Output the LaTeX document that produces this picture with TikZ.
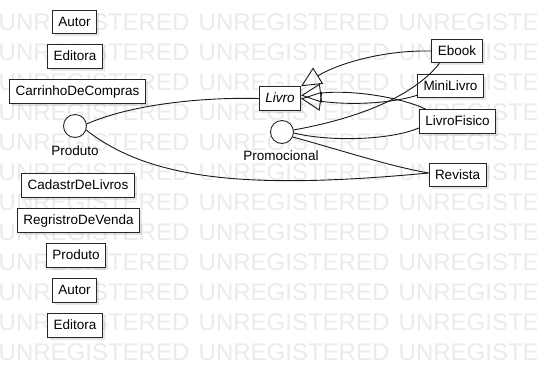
\documentclass[tikz,border=0pt]{standalone}
\usepackage{fontspec}
\setmainfont{Liberation Sans}
\usetikzlibrary{arrows.meta,shadows}

\tikzset{
  classbox/.style={draw=black!85, fill=white, line width=0.9pt,
    inner xsep=6pt, inner ysep=6.5pt, text height=9.7pt, text depth=1pt,
    font=\fontsize{13.5}{16}\selectfont,
    drop shadow={shadow xshift=2.5pt, shadow yshift=-2.5pt, fill=black, opacity=0.10}},
  iface/.style={circle, draw=black!85, fill=white, line width=0.9pt,
    minimum size=23pt, inner sep=0pt},
  ifacelabel/.style={inner sep=0pt, font=\fontsize{13.5}{16}\selectfont},
  link/.style={draw=black!90, line width=0.9pt},
  generalize/.style={link, -{Triangle[open, length=20pt, width=19pt, line width=0.9pt]}},
  watermark/.style={inner sep=0pt, anchor=base west, text=black!8,
    font=\fontsize{24}{24}\selectfont}
}

\begin{document}
\begin{tikzpicture}[x=1pt, y=-1pt]
  \useasboundingbox (0,0) rectangle (537,378);
  \fill[white] (0,0) rectangle (537,378);

  % background stamp, rows 30pt apart
  \foreach \r in {1,...,12} {
    \foreach \c in {0,1,2} {
      \node[watermark] (wm-\r-\c) at (200*\c-1.5, 30*\r) {UNREGISTERED};
    }
  }

  % left column of classes
  \node[classbox] (autorA)    at (74.5,22)   {Autor};
  \node[classbox] (editoraA)  at (75,56.5)   {Editora};
  \node[classbox] (carrinho)  at (77.5,91.5) {CarrinhoDeCompras};
  \node[classbox] (cadastro)  at (78,185.5)  {CadastrDeLivros};
  \node[classbox] (registro)  at (78.5,220.5){RegristroDeVenda};
  \node[classbox] (produtoB)  at (76,255.5)  {Produto};
  \node[classbox] (autorB)    at (74.5,290.5){Autor};
  \node[classbox] (editoraB)  at (75,325.5)  {Editora};

  % interfaces (lollipops)
  \node[iface] (produto) at (75,126) {};
  \node[ifacelabel] (produtoLbl) at (75,151) {Produto};
  \node[iface] (promo) at (282,132) {};
  \node[ifacelabel] (promoLbl) at (281,156) {Promocional};

  % abstract class and its subclasses
  \node[classbox] (livro)   at (280,98.5)  {\itshape Livro};
  \node[classbox] (ebook)   at (457,51)    {Ebook};
  \node[classbox] (mini)    at (450.5,86)  {MiniLivro};
  \node[classbox] (fisico)  at (457.5,121.5){LivroFisico};
  \node[classbox] (revista) at (457.5,175)  {Revista};

  % realizations of the interfaces
  \draw[link] (produto.10) .. controls +(43,-19) and +(-59,-1.5) .. (livro.west);
  \draw[link] (produto.-20) .. controls +(64,50) and +(-180,17) .. ([yshift=2pt]revista.west);
  \draw[link] (promo.10) .. controls +(67,-12) and +(-25,32) .. ([xshift=8pt]ebook.south west);
  \draw[link] (promo.-5) .. controls +(37,9) and +(-28,12) .. ([yshift=-6.5pt]fisico.west);
  \draw[link] (promo.-25) .. controls +(48,13) and +(-40,-7) .. ([yshift=2pt]revista.west);

  % generalizations towards Livro
  \draw[generalize] (ebook.west) .. controls +(-52,-1) and +(34,-21) .. (livro.north east);
  \draw[generalize] ([xshift=7pt]fisico.north west) .. controls +(-25,-12) and +(50,-6) .. ([yshift=3pt]livro.east);
  \draw[generalize] ([yshift=3pt]mini.south west) .. controls +(-25,8) and +(50,7) .. (livro.east);
\end{tikzpicture}
\end{document}
